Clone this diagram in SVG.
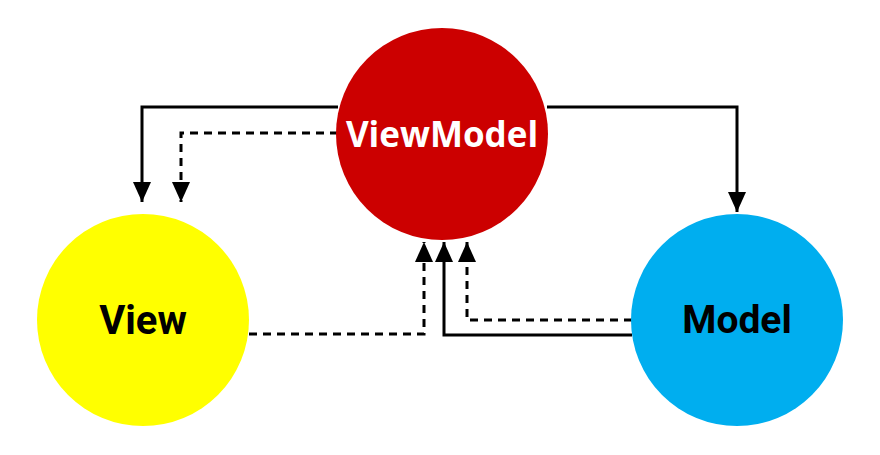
<svg xmlns="http://www.w3.org/2000/svg" width="880" height="455" viewBox="0 0 880 455">
<style>
.c{stroke:none}
.l{fill:none;stroke:#000;stroke-width:3}
.d{stroke-dasharray:8 6}
.t{font-family:Roboto,"Liberation Sans",sans-serif;font-weight:bold;text-anchor:middle;dominant-baseline:central}
</style>
<defs>
<marker id="a" markerUnits="userSpaceOnUse" markerWidth="22" markerHeight="18" refX="20" refY="9" orient="auto" viewBox="0 0 20 18">
<path d="M0,0 L20,9 L0,18 Z" fill="#000"/>
</marker>
</defs>
<rect width="880" height="455" fill="#fff"/>
<g id="connectors">
<path class="l" d="M338,107 H142 V202" marker-end="url(#a)"/>
<path class="l d" d="M338,133 H181 V202" marker-end="url(#a)"/>
<path class="l" d="M547,107 H737 V212" marker-end="url(#a)"/>
<path class="l d" d="M249,334 H424 V242" marker-end="url(#a)"/>
<path class="l" d="M632,335 H444 V242" marker-end="url(#a)"/>
<path class="l d" d="M632,320 H467 V242" marker-end="url(#a)"/>
</g>
<g id="viewmodel">
<circle class="c" cx="442" cy="134" r="106" fill="#CC0000"/>
<text class="t" x="442" y="133" font-size="35" fill="#fff" style="font-family:'Open Sans',Roboto,sans-serif">ViewModel</text>
</g>
<g id="view">
<circle class="c" cx="143" cy="320" r="106" fill="#FFFF00"/>
<text class="t" x="143" y="320" font-size="40" fill="#000">View</text>
</g>
<g id="model">
<circle class="c" cx="737" cy="320" r="106" fill="#00AEEF"/>
<text class="t" x="737" y="320" font-size="39" fill="#000">Model</text>
</g>
</svg>
